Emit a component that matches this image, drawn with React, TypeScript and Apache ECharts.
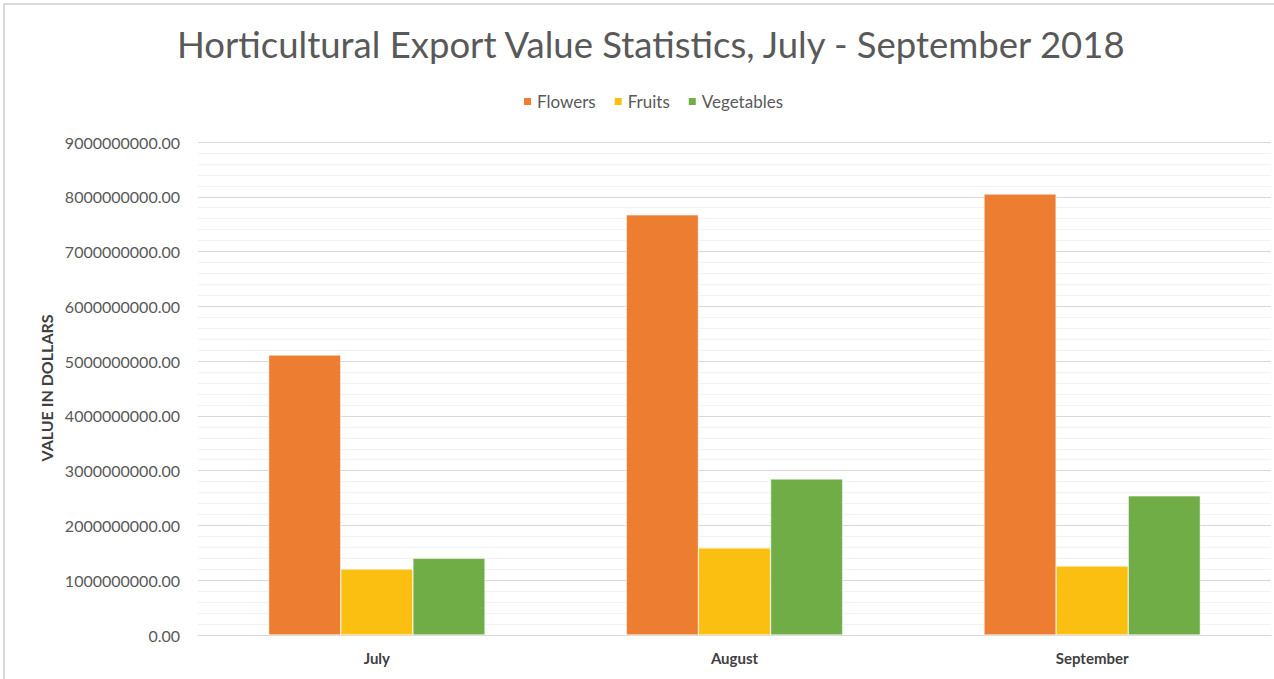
import React, { useEffect, useRef } from "react";
import * as echarts from "echarts";

const categories = ["July", "August", "September"];
const flowers = [5110000000, 7670000000, 8050000000];
const fruits = [1205000000, 1590000000, 1260000000];
const vegetables = [1400000000, 2850000000, 2540000000];
const seriesNames = ["Flowers", "Fruits", "Vegetables"];
const colors = ["#ED7D31", "#FBBF12", "#70AD47"];

const FONT = "Lato, 'Open Sans', sans-serif";

export default function App() {
  const ref = useRef<HTMLDivElement>(null);
  useEffect(() => {
    if (!ref.current) return;
    const chart = echarts.init(ref.current, undefined, { renderer: "svg" });
    const data = [flowers, fruits, vegetables];
    chart.setOption({
      animation: false,
      backgroundColor: "#ffffff",
      textStyle: { fontFamily: FONT },
      title: {
        text: "Horticultural Export Value Statistics, July - September 2018",
        left: 172,
        top: 20,
        textStyle: { fontFamily: FONT, fontSize: 36.5, fontWeight: "normal", color: "#595959" },
      },
      legend: {
        data: seriesNames,
        top: 88,
        left: 517,
        icon: "rect",
        itemWidth: 9,
        itemHeight: 9,
        itemGap: 17,
        textStyle: { fontFamily: FONT, fontSize: 17, color: "#595959" },
      },
      graphic: [
        {
          type: "rect",
          shape: { x: 4, y: 4, width: 1290, height: 700 },
          style: { fill: "none", stroke: "#d9d9d9", lineWidth: 2 },
          silent: true,
          z: -10,
        },
        {
          type: "text",
          x: 46,
          y: 388,
          rotation: Math.PI / 2,
          style: {
            text: "VALUE IN DOLLARS",
            fontFamily: FONT,
            fontSize: 16,
            fontWeight: "bold",
            fill: "#404040",
            align: "center",
            verticalAlign: "middle",
          },
        },
      ],
      grid: { left: 198, right: 3, top: 142, bottom: 44 },
      xAxis: {
        type: "category",
        data: categories,
        axisLine: { show: true, lineStyle: { color: "#d9d9d9", width: 1 } },
        axisTick: { show: false },
        axisLabel: {
          margin: 15,
          fontFamily: FONT,
          fontSize: 15,
          fontWeight: "bold",
          color: "#404040",
        },
      },
      yAxis: {
        type: "value",
        min: 0,
        max: 9000000000,
        interval: 1000000000,
        axisLine: { show: false },
        axisTick: { show: false },
        axisLabel: {
          margin: 18,
          fontFamily: FONT,
          fontSize: 16,
          color: "#595959",
          formatter: (v: number) => v.toFixed(2),
        },
        splitLine: { show: true, lineStyle: { color: "#d9d9d9", width: 1 } },
        minorTick: { show: false, splitNumber: 5 },
        minorSplitLine: { show: true, lineStyle: { color: "#f2f2f2", width: 1 } },
      },
      series: seriesNames.map((name, i) => ({
        name,
        type: "bar",
        data: data[i],
        barGap: "0%",
        barCategoryGap: "39.5%",
        itemStyle: { color: colors[i], borderColor: "#ffffff", borderWidth: 0.5 },
      })),
    });
    return () => chart.dispose();
  }, []);
  return (
    <div
      ref={ref}
      style={{ position: "fixed", left: 0, top: 0, width: 1274, height: 679 }}
    />
  );
}
